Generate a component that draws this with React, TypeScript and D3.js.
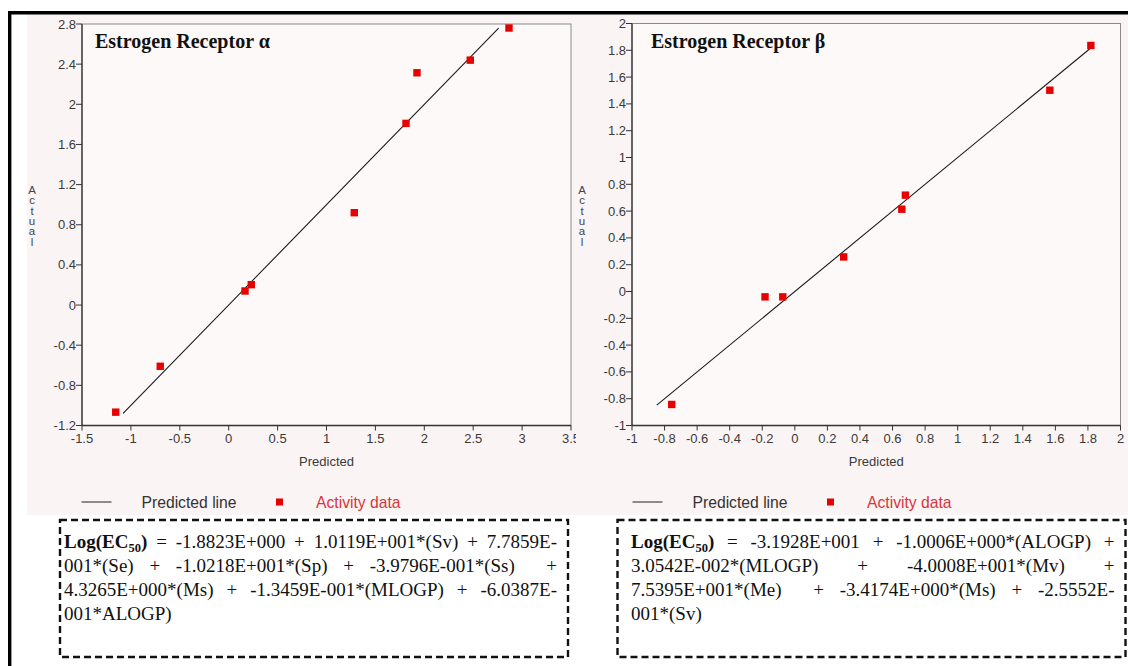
import React from 'react';
import * as d3 from 'd3';

// Estrogen Receptor alpha: predicted vs actual
const alphaPredicted = [-1.155, -0.7, 0.167, 0.231, 1.284, 1.813, 1.925, 2.47, 2.866];
const alphaActual = [-1.067, -0.61, 0.14, 0.203, 0.92, 1.81, 2.314, 2.44, 2.76];
const alphaLine = [-1.08, 2.76];
const alphaXTicks = [-1.5, -1, -0.5, 0, 0.5, 1, 1.5, 2, 2.5, 3, 3.5];
const alphaYTicks = [-1.2, -0.8, -0.4, 0, 0.4, 0.8, 1.2, 1.6, 2, 2.4, 2.8];

// Estrogen Receptor beta
const betaPredicted = [-0.756, -0.183, -0.074, 0.3, 0.657, 0.679, 1.566, 1.818];
const betaActual = [-0.843, -0.04, -0.04, 0.258, 0.614, 0.719, 1.502, 1.836];
const betaLine = [-0.848, 1.81];
const betaXTicks = [-1, -0.8, -0.6, -0.4, -0.2, 0, 0.2, 0.4, 0.6, 0.8, 1, 1.2, 1.4, 1.6, 1.8, 2];
const betaYTicks = [-1, -0.8, -0.6, -0.4, -0.2, 0, 0.2, 0.4, 0.6, 0.8, 1, 1.2, 1.4, 1.6, 1.8, 2];

// regression equations, as printed (double spaces kept for the wider justified gaps)
const alphaEquation = [
  'Log(EC50) = -1.8823E+000 + 1.0119E+001*(Sv) + 7.7859E-',
  '001*(Se) + -1.0218E+001*(Sp) + -3.9796E-001*(Ss)  +',
  '4.3265E+000*(Ms) + -1.3459E-001*(MLOGP) + -6.0387E-',
  '001*ALOGP)',
];
const betaEquation = [
  'Log(EC50) = -3.1928E+001 + -1.0006E+000*(ALOGP) +',
  '3.0542E-002*(MLOGP) + -4.0008E+001*(Mv) +',
  '7.5395E+001*(Me)  + -3.4174E+000*(Ms) + -2.5552E-',
  '001*(Sv)',
];

const SANS = '"Liberation Sans", Arial, sans-serif';
const SERIF = '"Liberation Serif", "Times New Roman", serif';
const EQ_SIZE = 19;
const SUB_SIZE = 12.5;

const ctx = typeof document !== 'undefined' ? document.createElement('canvas').getContext('2d') : null;
function measure(s, font) {
  if (!ctx) return s.length * 9;
  ctx.font = font;
  return ctx.measureText(s).width;
}
function tokenWidth(tok) {
  if (tok === 'Log(EC50)') {
    return (
      measure('Log(EC', `bold ${EQ_SIZE}px "Liberation Serif"`) +
      measure('50', `bold ${SUB_SIZE}px "Liberation Serif"`) +
      measure(')', `bold ${EQ_SIZE}px "Liberation Serif"`)
    );
  }
  return measure(tok, `${EQ_SIZE}px "Liberation Serif"`);
}

const fmt = (d) => String(d);

function Panel({ xScale, yScale, xTicks, yTicks, predicted, actual, line, title, titleX, clipId, clipRight }) {
  const [x0, x1] = xScale.range();
  const [yb, yt] = yScale.range();
  const pts = predicted.map((p, i) => ({ p, a: actual[i] }));
  const lineGen = d3.line().x((d) => xScale(d)).y((d) => yScale(d));
  return (
    <g clipPath={clipId ? `url(#${clipId})` : undefined}>
      {clipId && (
        <defs>
          <clipPath id={clipId}>
            <rect x={0} y={0} width={clipRight} height={666} />
          </clipPath>
        </defs>
      )}
      <rect x={x0} y={yt} width={x1 - x0} height={yb - yt} fill="#fdf9f9" stroke="#8a8a8a" strokeWidth={1} />
      {/* y axis */}
      <line x1={x0} x2={x0} y1={yt} y2={yb} stroke="#333" strokeWidth={1.3} />
      {yTicks.map((t) => (
        <g key={t} transform={`translate(${x0},${yScale(t)})`}>
          <line x1={-6} x2={0} stroke="#333" />
          <text x={-6} dy="0.35em" textAnchor="end" fontSize={13} fill="#3a3a3a" fontFamily={SANS}>
            {fmt(t)}
          </text>
        </g>
      ))}
      {/* x axis */}
      <line x1={x0} x2={x1} y1={yb} y2={yb} stroke="#333" strokeWidth={1.3} />
      {xTicks.map((t) => (
        <g key={t} transform={`translate(${xScale(t)},${yb})`}>
          <line y1={0} y2={5} stroke="#333" />
          <text y={17} textAnchor="middle" fontSize={13} fill="#3a3a3a" fontFamily={SANS}>
            {fmt(t)}
          </text>
        </g>
      ))}
      <text x={(x0 + x1) / 2} y={yb + 40} textAnchor="middle" fontSize={13} fill="#3a3a3a" fontFamily={SANS}>
        Predicted
      </text>
      <text x={x0 - 50} y={194} textAnchor="middle" fontSize={11.5} fill="#444" fontFamily={SANS}>
        {'Actual'.split('').map((c, i) => (
          <tspan key={i} x={x0 - 50} dy={i === 0 ? 0 : 10.3}>
            {c}
          </tspan>
        ))}
      </text>
      <path d={lineGen(line)} fill="none" stroke="#1a1a1a" strokeWidth={1.1} />
      {pts.map((d, i) => (
        <rect key={i} x={xScale(d.p) - 3.7} y={yScale(d.a) - 3.7} width={7.4} height={7.4} fill="#e60000" />
      ))}
      <text x={titleX} y={47.5} fontSize={20} fontWeight="bold" fill="#111" fontFamily={SERIF}>
        {title}
      </text>
    </g>
  );
}

function Legend({ x }) {
  return (
    <g transform={`translate(${x},502)`}>
      <line x1={0} x2={30} y1={0} y2={0} stroke="#222" strokeWidth={1} />
      <text x={60} y={5.5} fontSize={15.7} fill="#333" fontFamily={SANS}>
        Predicted line
      </text>
      <rect x={194.5} y={-3.5} width={7} height={7} fill="#e60000" />
      <text x={234.5} y={5.5} fontSize={15.7} fill="#d8343c" fontFamily={SANS}>
        Activity data
      </text>
    </g>
  );
}

function Equation({ x, y, w, h, textLeft, textRight, lines }) {
  const baseline0 = 547.5;
  const step = 24.2;
  return (
    <g>
      <rect x={x} y={y} width={w} height={h} fill="#fff" stroke="#111" strokeWidth={2.4} strokeDasharray="7,4" />
      {lines.map((ln, li) => {
        const toks = ln.split(' ');
        const widths = toks.map(tokenWidth);
        const total = d3.sum(widths);
        const justify = li < lines.length - 1 && toks.length > 1;
        const gap = justify ? Math.max(3, (textRight - textLeft - total) / (toks.length - 1)) : EQ_SIZE * 0.25;
        let cx = textLeft;
        const by = baseline0 + li * step;
        return toks.map((tok, ti) => {
          const px = cx;
          cx += widths[ti] + gap;
          if (!tok) return null;
          if (tok === 'Log(EC50)') {
            return (
              <text key={`${li}-${ti}`} x={px} y={by} fontSize={EQ_SIZE} fontWeight="bold" fill="#111" fontFamily={SERIF}>
                Log(EC
                <tspan fontSize={SUB_SIZE} dy={4.5}>50</tspan>
                <tspan dy={-4.5}>)</tspan>
              </text>
            );
          }
          return (
            <text key={`${li}-${ti}`} x={px} y={by} fontSize={EQ_SIZE} fill="#111" fontFamily={SERIF}>
              {tok}
            </text>
          );
        });
      })}
    </g>
  );
}

export default function App() {
  const xAlpha = d3.scaleLinear().domain([-1.5, 3.5]).range([82, 571]);
  const yAlpha = d3.scaleLinear().domain([-1.2, 2.8]).range([425.5, 24]);
  const xBeta = d3.scaleLinear().domain([-1, 2]).range([632, 1120.5]);
  const yBeta = d3.scaleLinear().domain([-1, 2]).range([425.5, 23.5]);

  return (
    <svg
      width={1128}
      height={666}
      style={{ position: 'absolute', left: 0, top: 0, display: 'block', background: '#fff' }}
    >
      <rect x={27} y={14} width={1101} height={501} fill="#fbf4f4" />
      <Panel
        xScale={xBeta}
        yScale={yBeta}
        xTicks={betaXTicks}
        yTicks={betaYTicks}
        predicted={betaPredicted}
        actual={betaActual}
        line={betaLine}
        title="Estrogen Receptor β"
        titleX={651}
      />
      <Panel
        xScale={xAlpha}
        yScale={yAlpha}
        xTicks={alphaXTicks}
        yTicks={alphaYTicks}
        predicted={alphaPredicted}
        actual={alphaActual}
        line={alphaLine}
        title="Estrogen Receptor α"
        titleX={95}
        clipId="clipAlpha"
        clipRight={576}
      />
      <Legend x={81.5} />
      <Legend x={632.5} />
      <Equation x={60} y={520} w={508} h={137} textLeft={64} textRight={557} lines={alphaEquation} />
      <Equation x={617.5} y={520} w={508} h={137} textLeft={631} textRight={1114.5} lines={betaEquation} />
      {/* outer frame */}
      <line x1={8} x2={1128} y1={12.7} y2={12.7} stroke="#000" strokeWidth={3.4} />
      <line x1={9.7} x2={9.7} y1={11} y2={666} stroke="#000" strokeWidth={3.4} />
    </svg>
  );
}
